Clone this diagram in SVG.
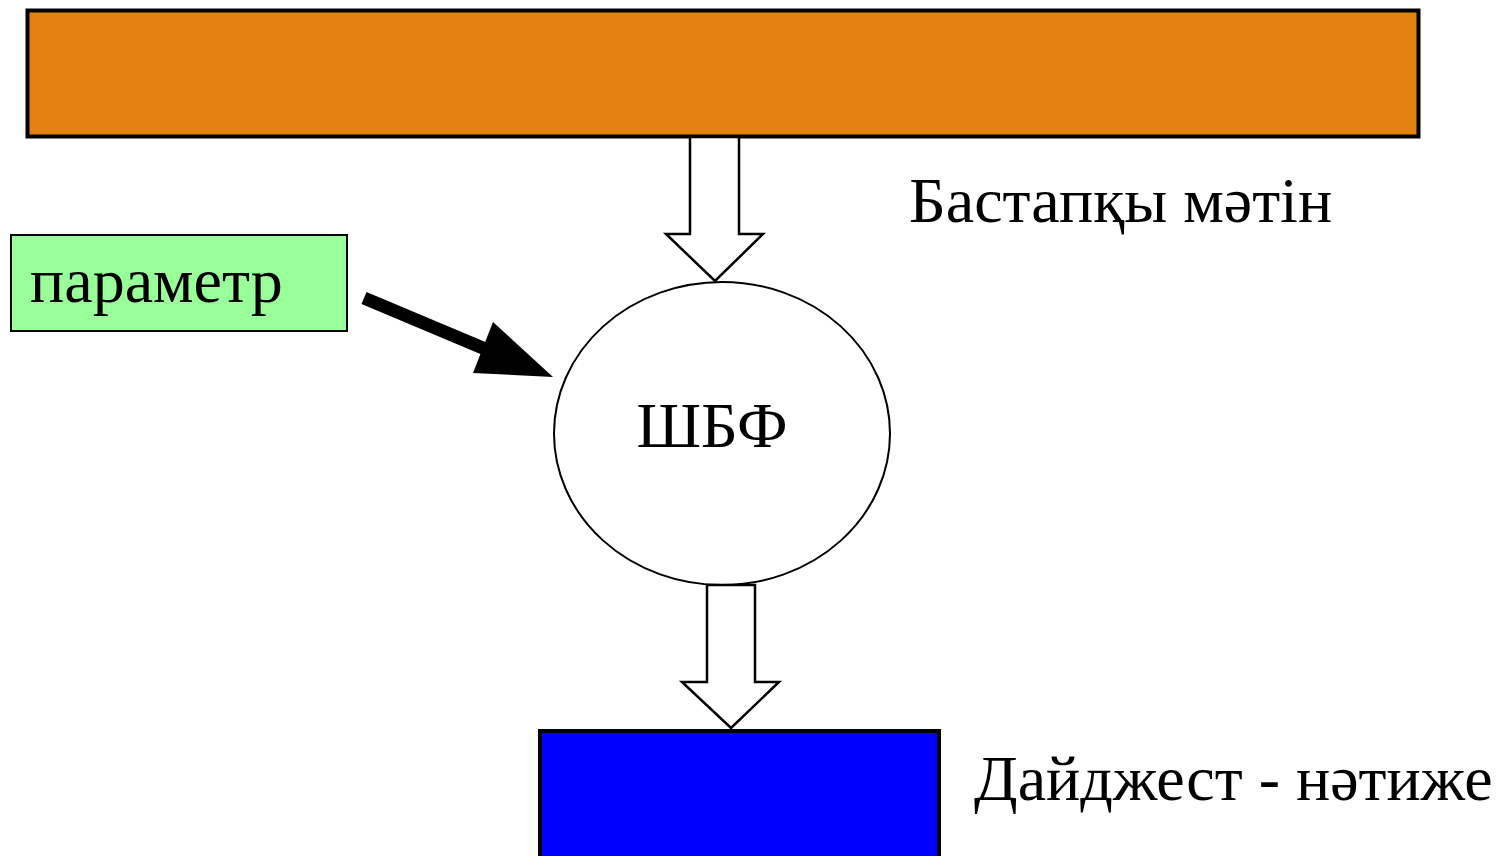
<svg xmlns="http://www.w3.org/2000/svg" width="1496" height="856" viewBox="0 0 1496 856">
  <style>
    .lbl { font-family: "Liberation Serif", "Times New Roman", serif; font-size: 64px; fill: #000; }
    .hollow { fill: #fff; stroke: #000; stroke-width: 2.5; stroke-linejoin: miter; }
  </style>
  <rect width="1496" height="856" fill="#fff"/>

  <!-- source data bar -->
  <g id="source-bar">
    <rect x="27.5" y="10.5" width="1391" height="126" fill="#E4820F" stroke="#000" stroke-width="4"/>
  </g>

  <!-- parameter box -->
  <g id="parameter">
    <rect x="11" y="235" width="336" height="96" fill="#99FF99" stroke="#000" stroke-width="2"/>
    <text class="lbl" x="30" y="302">параметр</text>
  </g>

  <!-- hash function -->
  <g id="hash-function">
    <ellipse cx="722" cy="433.5" rx="168" ry="151.5" fill="#fff" stroke="#000" stroke-width="2"/>
    <text class="lbl" x="712" y="447" text-anchor="middle">ШБФ</text>
  </g>

  <!-- digest output -->
  <g id="digest">
    <rect x="540" y="731" width="399" height="140" fill="#0000FF" stroke="#000" stroke-width="4"/>
  </g>

  <!-- free-standing labels -->
  <g id="labels">
    <text class="lbl" x="909" y="222">Бастапқы мәтін</text>
    <text class="lbl" x="974" y="800">Дайджест - нәтиже</text>
  </g>

  <!-- connectors -->
  <g id="connectors">
    <polygon class="hollow" points="690,137 739,137 739,234 763,234 715,281 666,234 690,234"/>
    <polygon class="hollow" points="707,585 755,585 755,682 779,682 731,728 682,682 707,682"/>
    <line x1="364" y1="298" x2="490" y2="351" stroke="#000" stroke-width="13"/>
    <polygon points="493,322 473,373 553,377" fill="#000"/>
  </g>
</svg>
